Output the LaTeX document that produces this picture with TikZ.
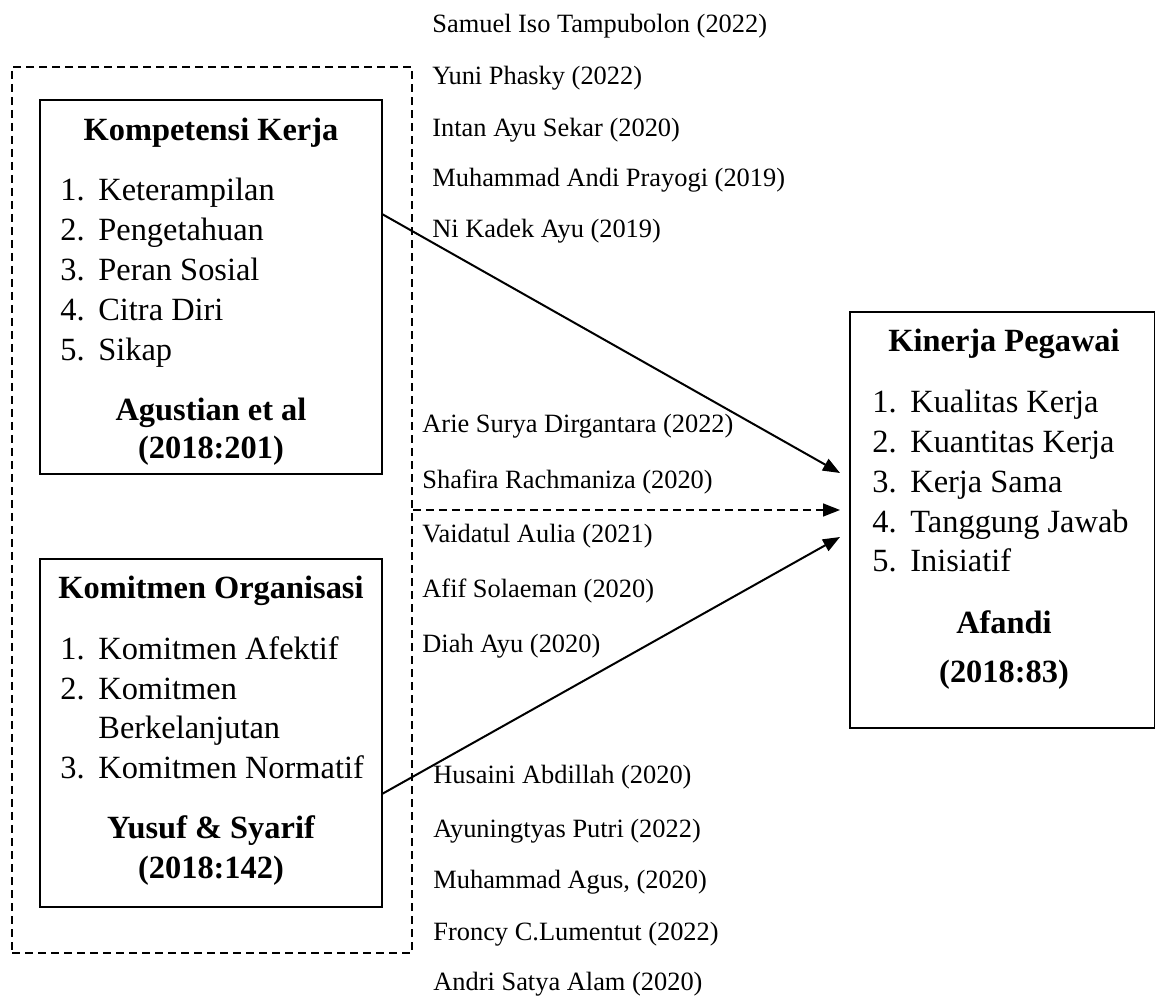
\documentclass[tikz,border=0pt]{standalone}
\usepackage{fontspec}
\setmainfont{Liberation Serif}
\usetikzlibrary{arrows.meta}

\begin{document}
\begin{tikzpicture}[x=0.5pt,y=-0.5pt,>={Triangle[length=8.5pt,width=6.5pt]}]
      \tikzset{box/.style={draw,line width=0.75pt,inner sep=0pt},judul/.style={font=\fontsize{16.2}{20}\selectfont\bfseries,anchor=base,inner sep=0pt},butir/.style={font=\fontsize{16.2}{20}\selectfont,anchor=base west,inner sep=0pt},peneliti/.style={font=\fontsize{13.2}{15}\selectfont,anchor=base west,inner sep=0pt},garis/.style={->,line width=1pt},putus/.style={dash pattern=on 4pt off 2.5pt,line width=0.75pt}}
      \useasboundingbox (0,0) rectangle (1156,999);
      % kotak variabel
      \node[box,putus,minimum width=200pt,minimum height=443pt] (grup) at (212,510) {};
      \node[box,minimum width=171pt,minimum height=187pt] (kk) at (211,287) {};\node[box,minimum width=171pt,minimum height=174pt] (ko) at (211,733) {};\node[box,minimum width=152.25pt,minimum height=208pt] (kp) at (1002.25,520) {};
      % Kompetensi Kerja
      \node[judul] (kkj) at (211,141) {Kompetensi Kerja};
      \foreach \n/\t/\y [count=\i] in {1./Keterampilan/201,2./Pengetahuan/241,3./Peran Sosial/281,4./Citra Diri/321,5./Sikap/361}{\node[butir] (kk\i) at (60,\y) {\makebox[19pt][l]{\n}\t};}
      \node[judul] (kks) at (211,421) {Agustian et al};\node[judul] (kkt) at (211,459) {(2018:201)};
      % Komitmen Organisasi
      \node[judul] (koj) at (211,598) {Komitmen Organisasi};
      \foreach \n/\t/\y [count=\i] in {1./Komitmen Afektif/659,2./Komitmen/699,/Berkelanjutan/738,3./Komitmen Normatif/778}{\node[butir] (ko\i) at (60,\y) {\makebox[19pt][l]{\n}\t};}
      \node[judul] (kos) at (211,838) {Yusuf \& Syarif};\node[judul] (kot) at (211,878) {(2018:142)};
      % Kinerja Pegawai
      \node[judul] (kpj) at (1004,352) {Kinerja Pegawai};
      \foreach \n/\t/\y [count=\i] in {1./Kualitas Kerja/413,2./Kuantitas Kerja/453,3./Kerja Sama/493,4./Tanggung Jawab/532,5./Inisiatif/572}{\node[butir] (kp\i) at (872,\y) {\makebox[19pt][l]{\n}\t};}
      \node[judul] (kps) at (1004,633) {Afandi};\node[judul] (kpt) at (1004,682) {(2018:83)};
      % penelitian terdahulu
      \foreach \x/\y/\t [count=\i] in {432/33/Samuel Iso Tampubolon (2022),432/85/Yuni Phasky (2022),432/137/Intan Ayu Sekar (2020),432/187/Muhammad Andi Prayogi (2019),432/238/Ni Kadek Ayu (2019),422/433/Arie Surya Dirgantara (2022),422/489/Shafira Rachmaniza (2020),422/543/Vaidatul Aulia (2021),422/597/Afif Solaeman (2020),422/652/Diah Ayu (2020),433/783/Husaini Abdillah (2020),433/837/Ayuningtyas Putri (2022),433/888/{Muhammad Agus, (2020)},433/940/Froncy C.Lumentut (2022),433/990/Andri Satya Alam (2020)}{\node[peneliti] (p\i) at (\x,\y) {\t};}
      % panah
      \coordinate (a1) at (382,214);\coordinate (b1) at (840,473);\coordinate (b2) at (840,510);\coordinate (a3) at (382,794);\coordinate (b3) at (840,537);
      \foreach \a/\b in {a1/b1,a3/b3}{\draw[garis] (\a)--(\b);}
      \draw[garis,putus] (grup.east)--(b2);
    \end{tikzpicture}
\end{document}
